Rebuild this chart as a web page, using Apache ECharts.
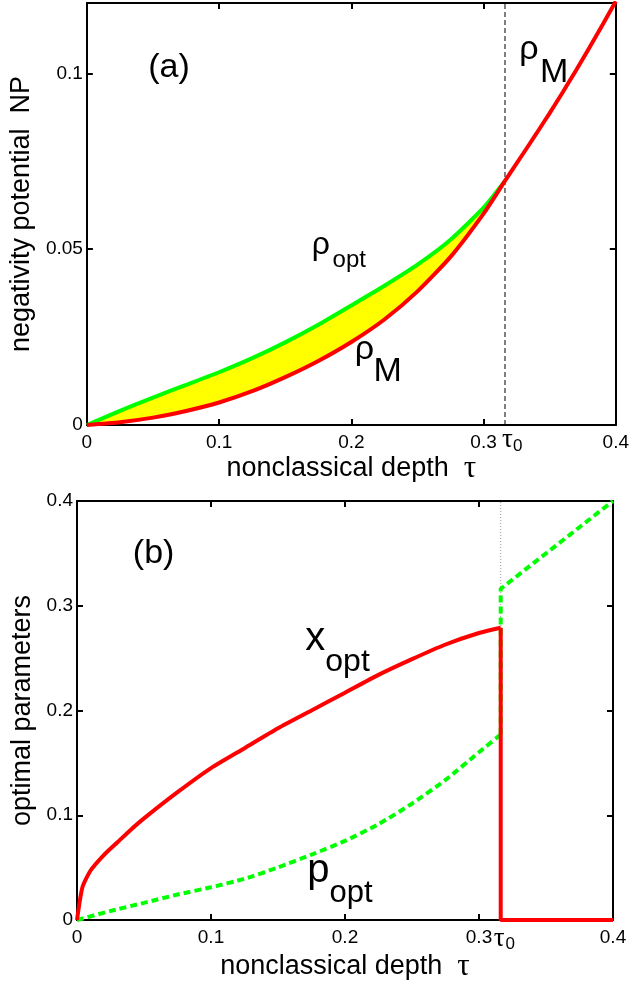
<!DOCTYPE html>
<html>
<head>
<meta charset="utf-8">
<script src="https://cdn.jsdelivr.net/npm/echarts@6/dist/echarts.min.js"></script>
<style>
html,body{margin:0;padding:0;background:#fff;}
#c{width:632px;height:983px;}
</style>
</head>
<body>
<div id="c"></div>
<script>
// ---------- data ----------
const tau0 = 0.3162;
const tauMax = 0.4, yMaxA = 0.12, yMaxB = 0.4;
// panel (a): negativity potential
const tauA    = [0, 0.025, 0.05, 0.075, 0.1, 0.125, 0.15, 0.175, 0.2, 0.225, 0.25, 0.275, 0.3, 0.3162];
const rhoOptA = [0, 0.0040, 0.0078, 0.0114, 0.0150, 0.0190, 0.0235, 0.0285, 0.0340, 0.0396, 0.0456, 0.0527, 0.0618, 0.0694];
const rhoMA   = [0, 0.0008, 0.0021, 0.0040, 0.0064, 0.0096, 0.0136, 0.0182, 0.0236, 0.0300, 0.0380, 0.0478, 0.0601, 0.0694];
const tauM2   = [0.33, 0.34, 0.35, 0.36, 0.37, 0.38, 0.39, 0.4];
const rhoM2   = [0.0772, 0.0829, 0.0887, 0.0947, 0.1009, 0.1073, 0.1138, 0.1205];
// panel (b): optimal parameters
const tauX = [0, 0.004, 0.01, 0.02, 0.03, 0.04, 0.05, 0.075, 0.1, 0.125, 0.15, 0.175, 0.2, 0.225, 0.25, 0.275, 0.3, 0.3162];
const xOpt = [0, 0.031, 0.047, 0.062, 0.074, 0.086, 0.097, 0.122, 0.145, 0.164, 0.183, 0.200, 0.217, 0.234, 0.249, 0.263, 0.274, 0.279];
const tauXDrop = [0.3162, 0.3162, 0.4];
const xOptDrop = [0.279, 0, 0];
const tauP = [0, 0.025, 0.05, 0.075, 0.1, 0.125, 0.15, 0.175, 0.2, 0.225, 0.25, 0.275, 0.3, 0.3162];
const pOpt = [0, 0.0086, 0.0164, 0.0243, 0.0313, 0.0393, 0.0502, 0.0624, 0.0755, 0.0915, 0.1111, 0.1337, 0.1602, 0.177];
const tauPJump = [0.3162, 0.3162, 0.4];
const pOptJump = [0.177, 0.3162, 0.4];
// tick labels
const xTickLabels = [0, 0.1, 0.2, 0.3, 0.4];
const yTickLabelsA = [0, 0.05, 0.1];
const yTickLabelsB = [0, 0.1, 0.2, 0.3, 0.4];
// ---------- style ----------
const FONT = "'Liberation Sans', Arial, sans-serif";
const SERIF = "'Liberation Serif', 'Times New Roman', serif";
const RED = '#ff0000', GREEN = '#00ff00', YELLOW = '#ffff00';
const FRAME_W = 2;

const zip = (a, b) => a.map((v, i) => [v, b[i]]);
const rhoMAll = zip(tauA, rhoMA).concat(zip(tauM2, rhoM2));
const bandRows = tauA.map((t, i) => [t, rhoOptA[i], rhoMA[i]]);
const labelFmt = (list) => (v) => {
  for (const L of list) if (Math.abs(L - v) < 1e-9) return String(L);
  return '';
};

function xAx(gi, pos, withLabels, nameGap) {
  const a = {
    type: 'value', gridIndex: gi, position: pos, min: 0, max: tauMax, interval: 0.1,
    axisLine: {show: true, onZero: false, lineStyle: {color: '#000', width: FRAME_W}},
    axisTick: {show: true, inside: true, length: 6, lineStyle: {color: '#000', width: FRAME_W}},
    axisLabel: {show: withLabels, formatter: labelFmt(xTickLabels), color: '#000', fontFamily: FONT, fontSize: 19, margin: 8},
    splitLine: {show: false}
  };
  if (withLabels) {
    a.name = 'nonclassical depth  {t|τ}';
    a.nameLocation = 'middle';
    a.nameGap = nameGap;
    a.nameTextStyle = {color: '#000', fontFamily: FONT, fontSize: 27,
      rich: {t: {fontFamily: SERIF, fontSize: 31, color: '#000'}}};
  }
  return a;
}
function yAx(gi, pos, withLabels, max, interval, labels, name, nameGap) {
  const a = {
    type: 'value', gridIndex: gi, position: pos, min: 0, max: max, interval: interval,
    axisLine: {show: true, onZero: false, lineStyle: {color: '#000', width: FRAME_W}},
    axisTick: {show: true, inside: true, length: 6, lineStyle: {color: '#000', width: FRAME_W}},
    axisLabel: {show: withLabels, formatter: labelFmt(labels), color: '#000', fontFamily: FONT, fontSize: 19, margin: 4},
    splitLine: {show: false}
  };
  if (withLabels) {
    a.name = name;
    a.nameLocation = 'middle';
    a.nameGap = nameGap;
    a.nameTextStyle = {color: '#000', fontFamily: FONT, fontSize: 27};
  }
  return a;
}

const chart = echarts.init(document.getElementById('c'), null, {renderer: 'canvas'});
chart.setOption({
  animation: false,
  backgroundColor: '#fff',
  grid: [
    {left: 82, top: 3, width: 535, height: 422},
    {left: 77, top: 501, width: 536, height: 422}
  ],
  xAxis: [xAx(0, 'bottom', true, 15), xAx(0, 'top', false), xAx(1, 'bottom', true, 31), xAx(1, 'top', false)],
  yAxis: [
    yAx(0, 'left', true, yMaxA, 0.05, yTickLabelsA, 'negativity potential  NP', 46),
    yAx(0, 'right', false, yMaxA, 0.05, yTickLabelsA),
    yAx(1, 'left', true, yMaxB, 0.1, yTickLabelsB, 'optimal parameters', 38),
    yAx(1, 'right', false, yMaxB, 0.1, yTickLabelsB)
  ],
  series: [
    {
      type: 'custom', name: 'band', xAxisIndex: 0, yAxisIndex: 0, silent: true, z: 1,
      data: bandRows, encode: {x: 0, y: [1, 2]},
      renderItem: function (params, api) {
        if (params.dataIndexInside !== 0) return null;
        const n = bandRows.length, pts = [];
        for (let i = 0; i < n; i++) pts.push(api.coord([api.value(0, i), api.value(1, i)]));
        for (let i = n - 1; i >= 0; i--) pts.push(api.coord([api.value(0, i), api.value(2, i)]));
        return {type: 'polygon', shape: {points: pts}, style: {fill: YELLOW}};
      }
    },
    {
      type: 'line', name: 'tau0_a', xAxisIndex: 0, yAxisIndex: 0, silent: true,
      data: [[tau0, 0], [tau0, yMaxA]], symbol: 'none', z: 2,
      lineStyle: {color: '#000', width: 1, type: [5, 3]}
    },
    {
      type: 'line', name: 'rho_opt', xAxisIndex: 0, yAxisIndex: 0, data: zip(tauA, rhoOptA),
      symbol: 'none', z: 3, smooth: 0.2, lineStyle: {color: GREEN, width: 4}
    },
    {
      type: 'line', name: 'rho_M', xAxisIndex: 0, yAxisIndex: 0, data: rhoMAll,
      symbol: 'none', z: 4, smooth: 0.2, lineStyle: {color: RED, width: 4}
    },
    {
      type: 'line', name: 'tau0_b', xAxisIndex: 2, yAxisIndex: 2, silent: true,
      data: [[tau0, 0], [tau0, yMaxB]], symbol: 'none', z: 2,
      lineStyle: {color: '#999', width: 1, type: [1, 2]}
    },
    {
      type: 'line', name: 'p_opt', xAxisIndex: 2, yAxisIndex: 2, data: zip(tauP, pOpt),
      symbol: 'none', z: 3, smooth: 0.2, lineStyle: {color: GREEN, width: 4, type: [7, 4]}
    },
    {
      type: 'line', name: 'p_opt_jump', xAxisIndex: 2, yAxisIndex: 2, data: zip(tauPJump, pOptJump),
      symbol: 'none', z: 3, lineStyle: {color: GREEN, width: 4, type: [7, 4]}
    },
    {
      type: 'line', name: 'x_opt', xAxisIndex: 2, yAxisIndex: 2, data: zip(tauX, xOpt),
      symbol: 'none', z: 4, smooth: 0.2, lineStyle: {color: RED, width: 4}
    },
    {
      type: 'line', name: 'x_opt_drop', xAxisIndex: 2, yAxisIndex: 2, data: zip(tauXDrop, xOptDrop),
      symbol: 'none', z: 4, lineStyle: {color: RED, width: 4}
    }
  ]
});

// ---------- text annotations (anchored in data coordinates) ----------
const notes = [
  {g: 0, x: 0.0621, y: 0.1016, t: '(a)', fs: 34, align: 'center'},
  {g: 0, x: 0.3269, y: 0.1066, t: 'ρ', fs: 34},
  {g: 0, x: 0.3426, y: 0.1002, t: 'M', fs: 34},
  {g: 0, x: 0.1700, y: 0.0510, t: 'ρ', fs: 32},
  {g: 0, x: 0.1858, y: 0.0467, t: 'opt', fs: 24},
  {g: 0, x: 0.2025, y: 0.0213, t: 'ρ', fs: 34},
  {g: 0, x: 0.2167, y: 0.0153, t: 'M', fs: 34},
  {g: 0, x: 0.3140, y: -0.0043, t: 'τ', fs: 27, serif: true},
  {g: 0, x: 0.3222, y: -0.0061, t: '0', fs: 17},
  {g: 1, x: 0.0572, y: 0.3493, t: '(b)', fs: 34, align: 'center'},
  {g: 1, x: 0.1704, y: 0.2686, t: 'x', fs: 40},
  {g: 1, x: 0.1853, y: 0.2460, t: 'opt', fs: 32},
  {g: 1, x: 0.1719, y: 0.0471, t: 'p', fs: 40},
  {g: 1, x: 0.1885, y: 0.0254, t: 'opt', fs: 31},
  {g: 1, x: 0.3110, y: -0.0179, t: 'τ', fs: 27, serif: true},
  {g: 1, x: 0.3198, y: -0.0228, t: '0', fs: 17}
];
const gfx = notes.map(function (n) {
  const p = chart.convertToPixel({xAxisIndex: n.g * 2, yAxisIndex: n.g * 2}, [n.x, n.y]);
  return {
    type: 'text', x: p[0], y: p[1], silent: true, z: 100,
    style: {
      text: n.t, fontSize: n.fs, fontFamily: n.serif ? SERIF : FONT, fill: '#000',
      align: n.align || 'left', verticalAlign: 'middle',
      textAlign: n.align || 'left', textVerticalAlign: 'middle'
    }
  };
});
chart.setOption({graphic: gfx});
</script>
</body>
</html>
